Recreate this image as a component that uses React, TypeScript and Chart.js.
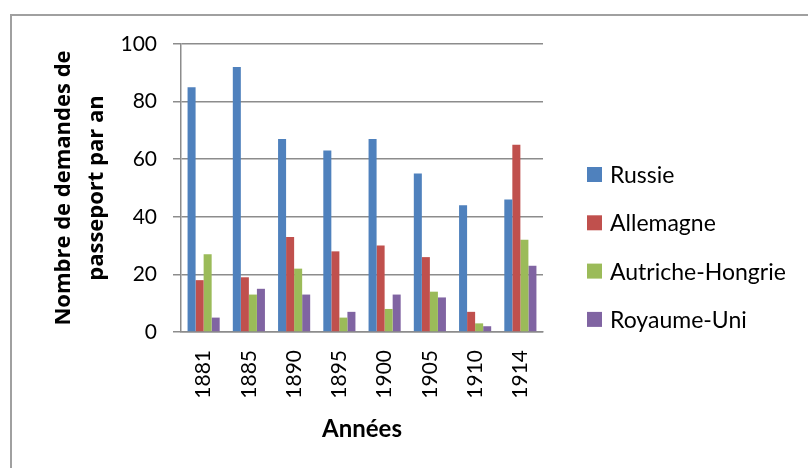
import React, { useEffect, useRef } from "react";
import { Chart, registerables } from "chart.js";

Chart.register(...registerables);

const years = ["1881", "1885", "1890", "1895", "1900", "1905", "1910", "1914"];
const russie = [85, 92, 67, 63, 67, 55, 44, 46];
const allemagne = [18, 19, 33, 28, 30, 26, 7, 65];
const autricheHongrie = [27, 13, 22, 5, 8, 14, 3, 32];
const royaumeUni = [5, 15, 13, 7, 13, 12, 2, 23];
const seriesNames = ["Russie", "Allemagne", "Autriche-Hongrie", "Royaume-Uni"];
const seriesColors = ["#4F81BD", "#C0504D", "#9BBB59", "#8064A2"];
const yMin = 0;
const yMax = 100;
const yStep = 20;
const yTitle = ["Nombre de demandes de", "passeport par an"];
const xTitle = "Années";

const GRID = "#8c8c8c";

const sideLegend = {
  id: "sideLegend",
  afterDraw(chart: any) {
    const ctx = chart.ctx;
    ctx.save();
    ctx.font = "23px Lato";
    ctx.textBaseline = "middle";
    ctx.textAlign = "left";
    chart.data.datasets.forEach((ds: any, i: number) => {
      const y = 174.5 + i * 48.3;
      ctx.fillStyle = ds.backgroundColor;
      ctx.fillRect(587, y - 7.5, 15, 15);
      ctx.fillStyle = "#000";
      ctx.fillText(ds.label, 610, y + 1);
    });
    ctx.restore();
  },
};

export default function App() {
  const ref = useRef<HTMLCanvasElement>(null);
  useEffect(() => {
    const series = [russie, allemagne, autricheHongrie, royaumeUni];
    const chart = new Chart(ref.current!, {
      type: "bar",
      data: {
        labels: years,
        datasets: series.map((d, i) => ({
          label: seriesNames[i],
          data: d,
          backgroundColor: seriesColors[i],
          borderWidth: 0,
          categoryPercentage: 0.71,
          barPercentage: 1,
        })),
      },
      options: {
        animation: false,
        responsive: false,
        maintainAspectRatio: false,
        layout: { padding: { top: 44, left: 0, right: 265, bottom: 0 } },
        plugins: { legend: { display: false }, tooltip: { enabled: false } },
        scales: {
          x: {
            afterFit: (s: any) => {
              s.height = 136;
            },
            grid: {
              display: true,
              drawOnChartArea: false,
              drawTicks: false,
              offset: true,
              color: GRID,
              lineWidth: 1.5,
            },
            border: { display: true, color: GRID, width: 1.5 },
            ticks: {
              minRotation: 90,
              maxRotation: 90,
              padding: 18,
              color: "#000",
              font: { family: "Lato", size: 21 },
            },
            title: {
              display: true,
              text: xTitle,
              color: "#000",
              font: { family: "Lato", size: 24, weight: "bold" },
              padding: { top: 0, bottom: 24 },
            },
          },
          y: {
            min: yMin,
            max: yMax,
            afterFit: (s: any) => {
              s.width = 181;
            },
            grid: {
              color: GRID,
              lineWidth: 1.5,
              tickLength: 8,
            },
            border: { display: true, color: GRID, width: 1.5 },
            ticks: {
              stepSize: yStep,
              padding: 16,
              color: "#000",
              font: { family: "Lato", size: 21 },
            },
            title: {
              display: true,
              text: yTitle,
              color: "#000",
              font: { family: "Open Sans", size: 22, weight: "bold", lineHeight: 1.5 },
              padding: { top: 47, bottom: 0 },
            },
          },
        },
      },
      plugins: [sideLegend],
    });
    return () => chart.destroy();
  }, []);
  return (
    <div style={{ position: "fixed", left: 0, top: 0, width: 808, height: 468, background: "#fff", overflow: "hidden" }}>
      <div
        style={{
          position: "absolute",
          left: 10,
          top: 14,
          width: 900,
          height: 600,
          border: "2px solid #a0a0a0",
        }}
      />
      <canvas ref={ref} width={808} height={468} style={{ position: "absolute", left: 0, top: 0 }} />
    </div>
  );
}
